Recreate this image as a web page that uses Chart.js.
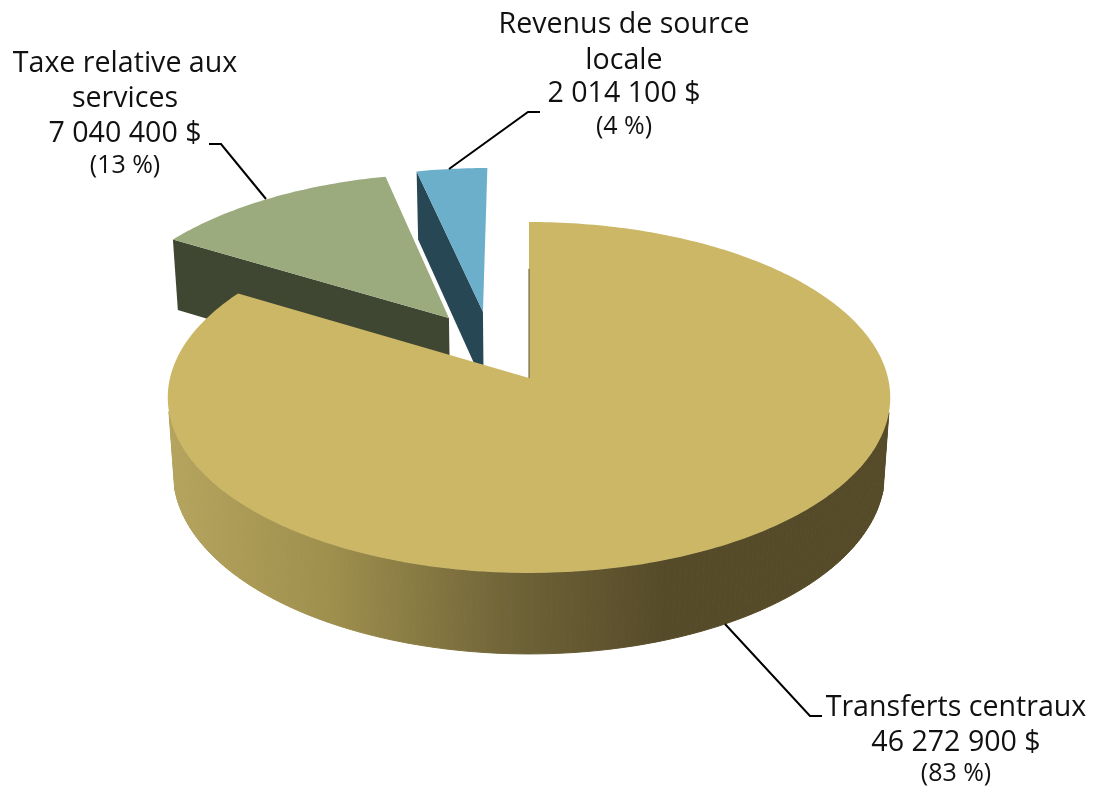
<!DOCTYPE html>
<html>
<head>
<meta charset="utf-8">
<style>
  html, body { margin: 0; background: #fff; }
  canvas { display: block; }
</style>
</head>
<body>
<canvas id="pieChart" width="1095" height="790"></canvas>
<script src="https://cdn.jsdelivr.net/npm/chart.js@4"></script>
<script>
const categories = ["Transferts centraux", "Taxe relative aux services", "Revenus de source locale"];
const amounts = [46272900, 7040400, 2014100];
const amountLabels = ["46 272 900 $", "7 040 400 $", "2 014 100 $"];
const percentLabels = ["(83 %)", "(13 %)", "(4 %)"];

const topColors = ["#cbb765", "#9bab7e", "#6bafcb"];
const wallColors = [null, "#3f4632", "#274755"];

// how far each slice is pulled out, in pie radii on the pie plane
const pullX = [0, -0.232, -0.134];
const pullY = [0, 0.36, 0.40];

// perspective of the 3D pie
const tilt = 0.4827;
const thickness = 0.2125;
const depthY = 0.111;
const depthZ = 0.0155;

function project(arc, X, Y, level) {
    const w = 1 + depthY * Y + depthZ * level;
    return {
        x: arc.x + arc.outerRadius * X / w,
        y: arc.y - arc.outerRadius * (tilt * Y - thickness * level) / w
    };
}

function rimPoints(arc, i, level) {
    const pts = [];
    const steps = Math.max(8, Math.round((arc.endAngle - arc.startAngle) * 60));
    for (let s = 0; s <= steps; s++) {
        const a = arc.startAngle + (arc.endAngle - arc.startAngle) * s / steps;
        pts.push(project(arc, pullX[i] + Math.cos(a), pullY[i] - Math.sin(a), level));
    }
    return pts;
}

function fillPath(ctx, pts, color) {
    ctx.beginPath();
    pts.forEach((p, n) => n ? ctx.lineTo(p.x, p.y) : ctx.moveTo(p.x, p.y));
    ctx.closePath();
    ctx.fillStyle = color;
    ctx.fill();
}

function wallGradient(ctx) {
    const g = ctx.createLinearGradient(170, 0, 665, 0);
    g.addColorStop(0, "#b5a45e");
    g.addColorStop(0.33, "#9e8f4d");
    g.addColorStop(0.7, "#6e6237");
    g.addColorStop(1, "#564b29");
    return g;
}

function drawSlice(ctx, arc, i) {
    const apexTop = project(arc, pullX[i], pullY[i], 0);
    const apexLow = project(arc, pullX[i], pullY[i], 1);
    const top = rimPoints(arc, i, 0);
    const low = rimPoints(arc, i, 1);

    // side of the slice first, the top covers whatever should be hidden
    if (i === 0) {
        const g = wallGradient(ctx);
        ctx.strokeStyle = g;
        ctx.lineWidth = 1;
        // one quad per step, a single outline would leave a notch at the left and right tangents
        for (let s = 0; s < top.length - 1; s++) {
            if (top[s].y < arc.y + 34) continue; // back of the rim is never seen
            fillPath(ctx, [top[s], top[s + 1], low[s + 1], low[s]], g);
            ctx.stroke();
        }
    } else {
        // only the left cut face of the pulled slices can be seen
        fillPath(ctx, [apexTop, top[0], low[0], apexLow], wallColors[i]);
    }

    fillPath(ctx, [apexTop].concat(top), arc.options.backgroundColor);

    if (i === 0) {
        // thin sliver of the inner face along the opening
        ctx.beginPath();
        ctx.moveTo(apexTop.x, apexTop.y);
        ctx.lineTo(top[0].x + (apexTop.x - top[0].x) * 0.3, top[0].y + (apexTop.y - top[0].y) * 0.3);
        ctx.strokeStyle = "#5f5430";
        ctx.lineWidth = 1;
        ctx.stroke();
    }
}

const leaders = [
    [[725, 624], [810, 716], [822, 716]],
    [[266, 199], [221, 144], [209, 144]],
    [[449, 169], [528, 112], [540, 112]]
];

const labelBlocks = [
    { x: 956, name: [[categories[0], 716]], amount: 751, percent: 781 },
    { x: 125, name: [["Taxe relative aux", 72], ["services", 107]], amount: 142, percent: 173 },
    { x: 624, name: [["Revenus de source", 33], ["locale", 69]], amount: 102, percent: 134 }
];

const pie3d = {
    id: "pie3d",
    beforeDatasetDraw(chart, args) {
        const ctx = chart.ctx;
        const arcs = chart.getDatasetMeta(args.index).data;
        ctx.save();
        // back slices first so the big one sits in front
        [2, 1, 0].forEach(i => drawSlice(ctx, arcs[i], i));
        ctx.restore();
        return false;
    },
    afterDatasetsDraw(chart) {
        const ctx = chart.ctx;
        ctx.save();
        ctx.strokeStyle = "#000";
        ctx.lineWidth = 2;
        leaders.forEach(line => {
            ctx.beginPath();
            line.forEach((p, n) => n ? ctx.lineTo(p[0], p[1]) : ctx.moveTo(p[0], p[1]));
            ctx.stroke();
        });
        ctx.fillStyle = "#111";
        ctx.textAlign = "center";
        ctx.textBaseline = "alphabetic";
        labelBlocks.forEach((b, i) => {
            ctx.font = "28.6px 'Open Sans'";
            b.name.forEach(n => ctx.fillText(n[0], b.x, n[1]));
            ctx.fillText(amountLabels[i], b.x, b.amount);
            ctx.font = "25px 'Open Sans'";
            ctx.fillText(percentLabels[i], b.x, b.percent);
        });
        ctx.restore();
    }
};

new Chart(document.getElementById("pieChart"), {
    type: "pie",
    data: {
        labels: categories,
        datasets: [{ data: amounts, backgroundColor: topColors, borderWidth: 0 }]
    },
    options: {
        responsive: false,
        animation: false,
        layout: { padding: { left: 170, right: 207, top: 19, bottom: 53 } },
        plugins: { legend: { display: false }, tooltip: { enabled: false } }
    },
    plugins: [pie3d]
});
</script>
</body>
</html>
